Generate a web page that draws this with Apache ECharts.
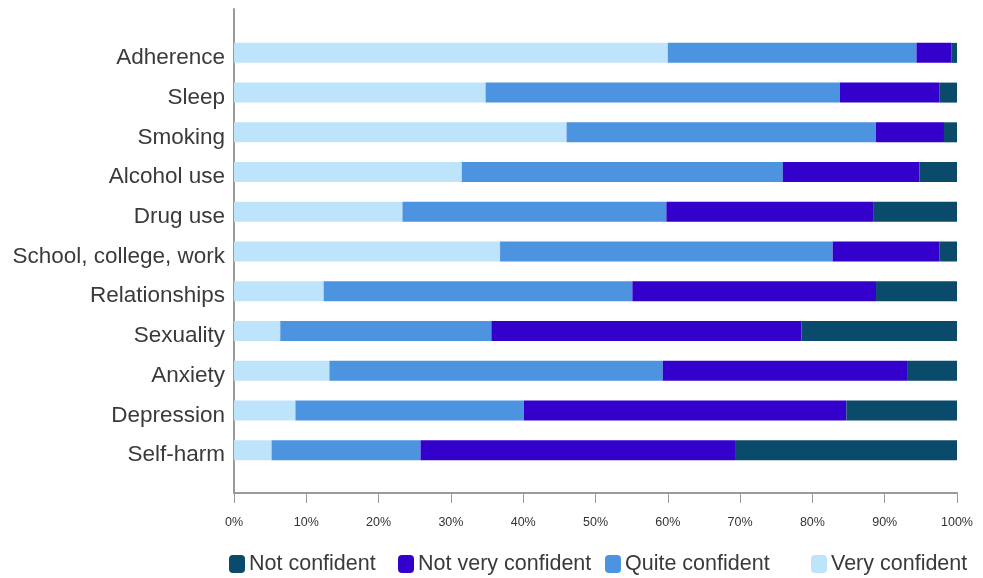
<!DOCTYPE html>
<html><head><meta charset="utf-8">
<script src="https://cdn.jsdelivr.net/npm/echarts@6/dist/echarts.min.js"></script>
<style>html,body{margin:0;padding:0;background:#fff}#c{width:983px;height:578px}</style>
</head><body><div id="c"></div>
<script>
const categories = ['Adherence','Sleep','Smoking','Alcohol use','Drug use','School, college, work','Relationships','Sexuality','Anxiety','Depression','Self-harm'];
const veryConfident   = [60.0, 34.8, 46.0, 31.5, 23.3, 36.8, 12.4, 6.4, 13.2, 8.5, 5.2];
const quiteConfident  = [34.4, 49.0, 42.8, 44.4, 36.5, 46.0, 42.7, 29.2, 46.1, 31.6, 20.6];
const notVeryConfident= [4.8, 13.8, 9.4, 18.9, 28.6, 14.8, 33.7, 42.9, 33.9, 44.6, 43.5];
const notConfident    = [0.8, 2.4, 1.8, 5.2, 11.6, 2.4, 11.2, 21.5, 6.8, 15.3, 30.7];
const xTicks = [0,10,20,30,40,50,60,70,80,90,100];
const legendNames = ['Not confident','Not very confident','Quite confident','Very confident'];

const FONT = '"Liberation Sans", Arial, sans-serif';
const colors = {nc:'#0a4a6b', nv:'#3300cc', qc:'#4d94e0', vc:'#bde4fa'};
const legendLeft = [229, 398, 605, 811];

const chart = echarts.init(document.getElementById('c'));
const mk = (name, data, color) => ({
  name, type:'bar', stack:'t', data, xAxisIndex:1, yAxisIndex:1,
  barWidth:20, itemStyle:{color}, emphasis:{disabled:true}
});
chart.setOption({
  animation:false,
  textStyle:{fontFamily:FONT},
  grid:[
    {left:234, right:26, top:9, height:484, containLabel:false, outerBoundsMode:'none'},
    {left:234, right:26, top:33, height:437, containLabel:false, outerBoundsMode:'none'}
  ],
  xAxis:[
    {gridIndex:0, type:'value', min:0, max:100, interval:10,
     axisLine:{show:true, lineStyle:{color:'#9a9a9a', width:2}},
     axisTick:{show:true, length:10, inside:false, lineStyle:{color:'#9a9a9a', width:1}},
     splitLine:{show:false},
     axisLabel:{margin:23, fontSize:12.5, color:'#333', fontFamily:FONT,
       formatter:v => xTicks.includes(v) ? v + '%' : ''}},
    {gridIndex:1, type:'value', min:0, max:100, show:false}
  ],
  yAxis:[
    {gridIndex:0, type:'category', data:[''],
     axisLine:{show:true, lineStyle:{color:'#9a9a9a', width:2}},
     axisTick:{show:false}, axisLabel:{show:false}},
    {gridIndex:1, type:'category', data:categories, inverse:true,
     axisLine:{show:false}, axisTick:{show:false},
     axisLabel:{margin:9, formatter:v => '{a|' + v + '}',
       rich:{a:{fontSize:22.5, color:'#3a3a3a', fontFamily:FONT, padding:[10,0,0,0]}}}}
  ],
  legend: legendNames.map((n, i) => ({
    bottom:3, left:legendLeft[i], itemWidth:16, itemHeight:18, padding:0,
    textStyle:{fontSize:21.5, color:'#3a3a3a', fontFamily:FONT, padding:[0,0,0,-1]},
    data:[n]
  })),
  series:[
    mk('Very confident', veryConfident, colors.vc),
    mk('Quite confident', quiteConfident, colors.qc),
    mk('Not very confident', notVeryConfident, colors.nv),
    mk('Not confident', notConfident, colors.nc)
  ]
});
</script></body></html>
